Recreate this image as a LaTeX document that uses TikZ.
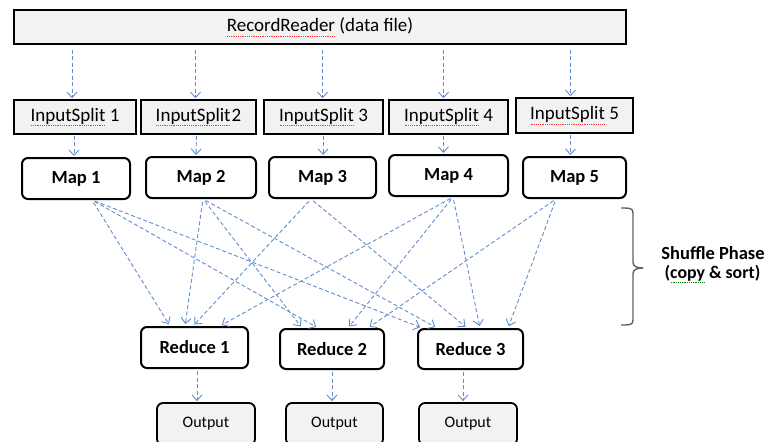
\documentclass[tikz,border=0pt]{standalone}
\usepackage{fontspec}
\setmainfont{Carlito}
\usetikzlibrary{arrows.meta,calc}

\definecolor{flowblue}{RGB}{96,141,204}
\definecolor{boxgray}{RGB}{242,242,242}
\definecolor{bracegray}{RGB}{95,95,95}

% proofing marks under words: a row of small dots beneath the word
\newsavebox\markedword
\newcommand\proofmark[2]{\leavevmode\sbox\markedword{#2}%
  \rlap{\lower0.55ex\hbox to \wd\markedword{\color{#1}\xleaders\hbox{\kern0.45pt\rule{0.9pt}{0.7pt}\kern0.45pt}\hfill}}%
  \usebox\markedword}
\newcommand\spellred[1]{\proofmark{red!80}{#1}}
\newcommand\spellgreen[1]{\proofmark{green!55!black}{#1}}

\begin{document}
\begin{tikzpicture}[x=1pt,y=-1pt,
  graybox/.style={draw=black, line width=1.5pt, fill=boxgray, inner sep=0pt,
    font=\fontsize{19}{22}\selectfont},
  mapbox/.style={draw=black, line width=2pt, rounded corners=6pt, fill=white,
    inner sep=0pt, minimum height=41pt, font=\bfseries\fontsize{18.5}{22}\selectfont},
  outbox/.style={draw=black, line width=1.8pt, rounded corners=6pt, fill=boxgray,
    inner sep=0pt, minimum width=98pt, minimum height=42pt, font=\fontsize{16}{19}\selectfont},
  flow/.style={draw=flowblue, line width=0.9pt, dash pattern=on 4pt off 2.5pt,
    -{Straight Barb[length=5.5pt,width=10pt]}, shorten <=3pt, shorten >=2pt},
  note/.style={inner sep=0pt, font=\bfseries\fontsize{18.5}{22}\selectfont}
]
\useasboundingbox (0,0) rectangle (767,441);

% reader and input splits
\node[graybox, minimum width=612pt, minimum height=34pt] (rr) at (320,27)
  {\spellred{RecordReader} (data file)};
\node[graybox, minimum width=122pt, minimum height=34pt] (is1) at (75,117) {\spellred{InputSplit} 1};
\node[graybox, minimum width=115pt, minimum height=34pt] (is2) at (198.5,117) {\spellred{InputSplit}\kern1pt2};
\node[graybox, minimum width=119pt, minimum height=34pt] (is3) at (323.5,117) {\spellred{InputSplit} 3};
\node[graybox, minimum width=119pt, minimum height=34pt] (is4) at (448.5,117) {\spellred{InputSplit} 4};
\node[graybox, minimum width=117pt, minimum height=35pt] (is5) at (574.5,115.5) {\spellred{InputSplit} 5};

% map tasks
\node[mapbox, minimum width=108pt] (m1) at (76,178.5) {Map 1};
\node[mapbox, minimum width=110pt] (m2) at (201,177.5) {Map 2};
\node[mapbox, minimum width=107pt] (m3) at (322.5,177.5) {Map 3};
\node[mapbox, minimum width=119pt] (m4) at (448.5,175.5) {Map 4};
\node[mapbox, minimum width=103pt] (m5) at (574.5,177.5) {Map 5};

% reduce tasks
\node[mapbox, minimum width=107pt] (r1) at (194.5,347.5) {Reduce 1};
\node[mapbox, minimum width=104pt, minimum height=40pt] (r2) at (332,349) {Reduce 2};
\node[mapbox, minimum width=105pt, minimum height=40pt] (r3) at (470.5,349) {Reduce 3};

% outputs
\node[outbox] (o1) at (206,424) {Output};
\node[outbox, minimum width=97pt] (o2) at (334.5,424) {Output};
\node[outbox] (o3) at (468,424) {Output};

% reader -> splits
\draw[flow, shorten <=5pt, shorten >=1pt] ([xshift=-3pt]rr.south -| is1) -- ([xshift=-3pt]is1.north);
\draw[flow, shorten <=5pt, shorten >=1pt] ([xshift=-3pt]rr.south -| is2) -- ([xshift=-3pt]is2.north);
\draw[flow, shorten <=5pt, shorten >=1pt] ([xshift=-1pt]rr.south -| is3) -- ([xshift=-1pt]is3.north);
\draw[flow, shorten <=5pt, shorten >=1pt] ([xshift=-5pt]rr.south -| is4) -- ([xshift=-5pt]is4.north);
\draw[flow, shorten <=5pt, shorten >=1pt] ([xshift=-4pt]rr.south -| is5) -- ([xshift=-4pt]is5.north);

% splits -> maps
\draw[flow, shorten <=1pt, shorten >=1pt] ([xshift=-1pt]is1.south) -- ([xshift=-2pt]m1.north);
\draw[flow, shorten <=1pt, shorten >=1pt] ([xshift=-2pt]is2.south) -- ([xshift=-5pt]m2.north);
\draw[flow, shorten <=1pt, shorten >=1pt] ([xshift=-0.5pt]is3.south) -- ([xshift=0.5pt]m3.north);
\draw[flow, shorten <=1pt, shorten >=1pt] ([xshift=-5pt]is4.south) -- ([xshift=-5pt]m4.north);
\draw[flow, shorten <=1pt, shorten >=1pt] ([xshift=-4pt]is5.south) -- ([xshift=-4pt]m5.north);

% shuffle: maps -> reducers
\draw[flow] ([xshift=16pt]m1.south) -- ([xshift=-24.5pt]r1.north);
\draw[flow] ([xshift=16pt]m1.south) -- ([xshift=-14pt]r2.north);
\draw[flow] ([xshift=16pt]m1.south) -- ([xshift=-48.5pt]r3.north);
\draw[flow] ([xshift=2pt]m2.south) -- ([xshift=-9.5pt]r1.north);
\draw[flow] ([xshift=2pt]m2.south) -- ([xshift=-30pt]r2.north);
\draw[flow] ([xshift=2pt]m2.south) -- ([xshift=-33.5pt]r3.north);
\draw[flow] ([xshift=-11.5pt]m3.south) -- ([xshift=-1.5pt]r1.north);
\draw[flow] ([xshift=-11.5pt]m3.south) -- ([xshift=-3.5pt]r3.north);
\draw[flow] ([xshift=4.5pt]m4.south) -- ([xshift=25.5pt]r1.north);
\draw[flow] ([xshift=4.5pt]m4.south) -- ([xshift=16pt]r2.north);
\draw[flow] ([xshift=4.5pt]m4.south) -- ([xshift=9.5pt]r3.north);
\draw[flow] ([xshift=-18.5pt]m5.south) -- ([xshift=36pt]r2.north);
\draw[flow] ([xshift=-18.5pt]m5.south) -- ([xshift=37.5pt]r3.north);

% reducers -> outputs
\draw[flow, shorten <=2pt, shorten >=1pt] ([xshift=2.5pt]r1.south) -- ([xshift=-9pt]o1.north);
\draw[flow, shorten <=2pt, shorten >=1pt] (r2.south) -- ([xshift=-2.5pt]o2.north);
\draw[flow, shorten <=2pt, shorten >=1pt] ([xshift=-7.5pt]r3.south) -- ([xshift=-5pt]o3.north);

% shuffle phase bracket
\draw[bracegray, line width=1.4pt, line join=round]
  (621,208) .. controls (630,208) and (633,208) .. (633,213)
  -- (633,262) .. controls (633,266) and (636,268) .. (643,268)
  .. controls (636,268) and (633,270) .. (633,274)
  -- (633,320) .. controls (633,325) and (630,325) .. (621,325);

\node[note] (shuf) at (713,253) {Shuffle Phase};
\node[note, font=\bfseries\fontsize{17.8}{21}\selectfont] (shufsub) at (712.5,274)
  {(\spellgreen{copy} \& sort)};
\end{tikzpicture}
\end{document}
